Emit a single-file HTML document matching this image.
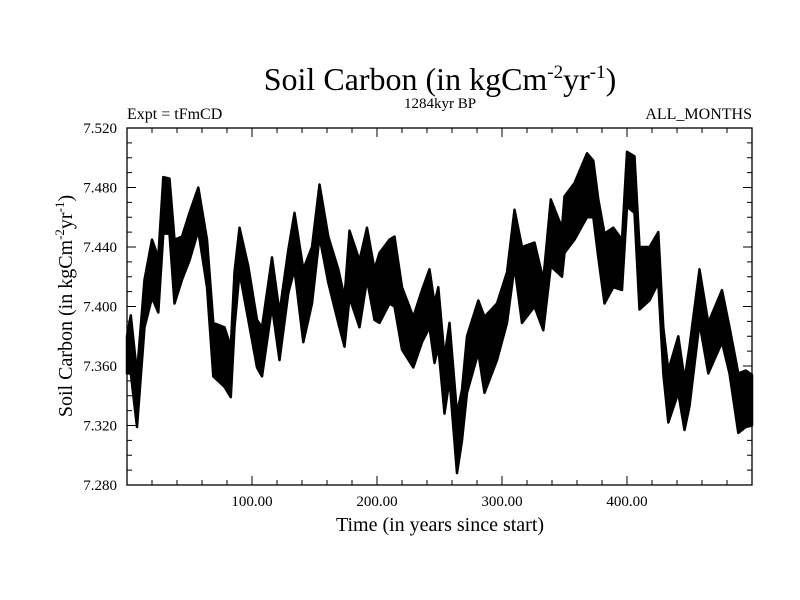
<!DOCTYPE html>
<html><head><meta charset="utf-8"><style>
body{margin:0;background:#fff}
svg{display:block;font-family:"Liberation Serif",serif}
</style></head><body>
<svg id="chart" width="800" height="600" xmlns="http://www.w3.org/2000/svg">
<rect width="800" height="600" fill="#fff"/>
<text x="440" y="90" font-size="32" text-anchor="middle">Soil Carbon (in kgCm<tspan dy="-12" font-size="19">-2</tspan><tspan dy="12">yr</tspan><tspan dy="-12" font-size="19">-1</tspan><tspan dy="12">)</tspan></text>
<text x="440" y="108" font-size="15" text-anchor="middle">1284kyr BP</text>
<text x="127" y="119" font-size="16">Expt = tFmCD</text>
<text x="752" y="119" font-size="16" text-anchor="end">ALL_MONTHS</text>
<text transform="translate(72,306) rotate(-90)" font-size="20" text-anchor="middle">Soil Carbon (in kgCm<tspan dy="-8" font-size="13">-2</tspan><tspan dy="8">yr</tspan><tspan dy="-8" font-size="13">-1</tspan><tspan dy="8">)</tspan></text>
<text x="440" y="531" font-size="20" text-anchor="middle">Time (in years since start)</text>
<g id="ticks"></g>
<path id="series" fill="#000" stroke="#000" stroke-width="2.5" stroke-linejoin="round"/>
<rect x="127" y="128" width="625" height="357" fill="none" stroke="#000" stroke-width="1.3"/>
</svg>
<script>
const years=[0,3,8,14,20,25,29,34,38,44,50,57,64,69,78,83,86,90,97,104,108,116,122,129,134,141,148,154,161,169,174,178,186,192,198,202,210,214,220,229,236,242,246,249,254,258,264,268,272,281,286,296,304,310,316,326,333,339,348,350,358,368,373,377,382,389,396,400,406,410,418,425,429,433,441,446,450,458,465,476,482,489,495,500];
const upper=[7.380,7.394,7.355,7.418,7.445,7.433,7.487,7.486,7.445,7.447,7.463,7.480,7.445,7.389,7.386,7.373,7.423,7.453,7.427,7.391,7.386,7.433,7.396,7.438,7.463,7.425,7.440,7.482,7.447,7.425,7.406,7.451,7.431,7.453,7.425,7.436,7.445,7.447,7.413,7.393,7.411,7.425,7.402,7.413,7.366,7.389,7.328,7.344,7.380,7.404,7.393,7.402,7.423,7.465,7.440,7.443,7.418,7.472,7.453,7.474,7.483,7.503,7.498,7.472,7.449,7.453,7.445,7.504,7.501,7.440,7.440,7.450,7.386,7.357,7.380,7.351,7.373,7.425,7.389,7.411,7.386,7.355,7.357,7.354];
const lower=[7.355,7.355,7.319,7.386,7.406,7.396,7.449,7.449,7.402,7.418,7.431,7.451,7.413,7.353,7.346,7.339,7.386,7.423,7.391,7.359,7.353,7.400,7.364,7.409,7.425,7.376,7.402,7.447,7.416,7.389,7.373,7.406,7.386,7.418,7.391,7.389,7.402,7.400,7.371,7.359,7.376,7.386,7.362,7.373,7.328,7.351,7.288,7.310,7.342,7.369,7.342,7.364,7.389,7.427,7.389,7.400,7.384,7.427,7.420,7.436,7.445,7.460,7.460,7.433,7.402,7.413,7.411,7.467,7.463,7.398,7.404,7.416,7.355,7.322,7.342,7.317,7.333,7.389,7.355,7.376,7.355,7.315,7.319,7.320];
const xTickLabels=["100.00","200.00","300.00","400.00"];
const yTickLabels=["7.280","7.320","7.360","7.400","7.440","7.480","7.520"];
const X0=127,X1=752,Y0=485,Y1=128,XMIN=0,XMAX=500,YMIN=7.28,YMAX=7.52;
function sx(v){return X0+(v-XMIN)/(XMAX-XMIN)*(X1-X0);}
function sy(v){return Y0-(v-YMIN)/(YMAX-YMIN)*(Y0-Y1);}
const NS="http://www.w3.org/2000/svg";
const g=document.getElementById('ticks');
function line(x1,y1,x2,y2,name){const l=document.createElementNS(NS,'line');l.setAttribute('x1',x1);l.setAttribute('y1',y1);l.setAttribute('x2',x2);l.setAttribute('y2',y2);l.setAttribute('stroke','#000');l.setAttribute('stroke-width','1');


g.appendChild(l);}
function text(x,y,s,anchor,name){const t=document.createElementNS(NS,'text');t.setAttribute('x',x);t.setAttribute('y',y);t.setAttribute('font-size','15');t.setAttribute('text-anchor',anchor);t.textContent=s;


g.appendChild(t);}
for(let v=0;v<=500;v+=20){const x=sx(v);const major=v%100===0;const len=major?9:5;
line(x,Y0,x,Y0-len,'x-tick');line(x,Y1,x,Y1+len,'x-tick-top');}
xTickLabels.forEach(s=>text(sx(parseFloat(s)),506,s,'middle','x-tick-label'));
for(let i=0;i<=24;i++){const v=YMIN+i*0.01;const y=sy(v);const major=i%4===0;const len=major?9:5;
line(X0,y,X0+len,y,'y-tick');line(X1,y,X1-len,y,'y-tick-right');}
yTickLabels.forEach(s=>text(117,sy(parseFloat(s))+5,s,'end','y-tick-label'));
let d='M'+sx(years[0])+','+sy(upper[0]);
for(let i=1;i<years.length;i++)d+=' L'+sx(years[i]).toFixed(1)+','+sy(upper[i]).toFixed(1);
for(let i=years.length-1;i>=0;i--)d+=' L'+sx(years[i]).toFixed(1)+','+sy(lower[i]).toFixed(1);
d+='Z';
document.getElementById('series').setAttribute('d',d);
</script>
</body></html>
